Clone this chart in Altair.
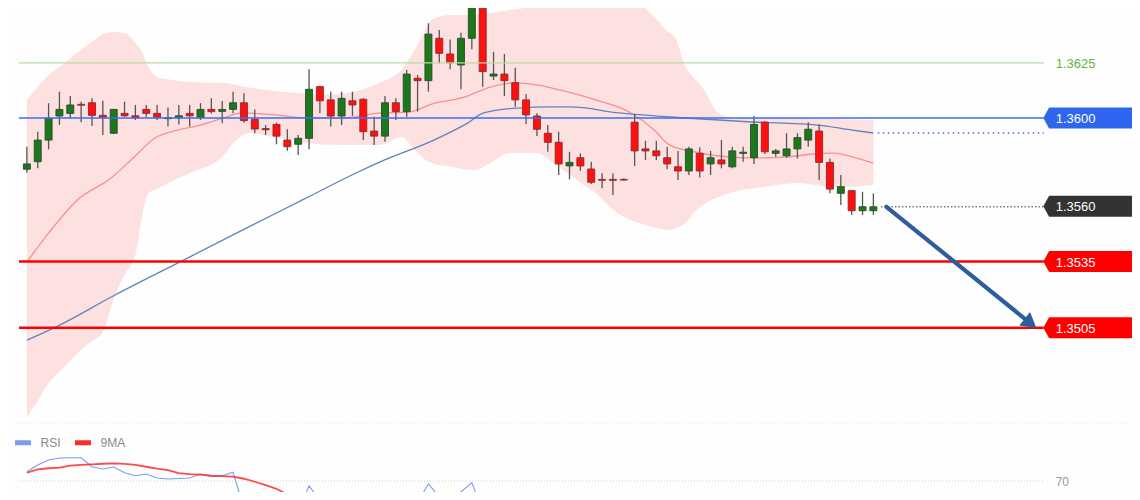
import altair as alt
import pandas as pd

# ---------------- data ----------------
opens = [1.35768, 1.35802, 1.35900, 1.36009, 1.36021, 1.36062, 1.36069, 1.36012, 1.35931, 1.36021,
         1.36010, 1.36039, 1.36021, 1.35997, 1.36001, 1.36021, 1.36002, 1.36039, 1.36030, 1.36039,
         1.36069, 1.35994, 1.35952, 1.35971, 1.35900, 1.35881, 1.35908, 1.36142, 1.36082, 1.36009,
         1.36078, 1.36085, 1.35941, 1.35918, 1.36069, 1.36029, 1.36180, 1.36169, 1.36361, 1.36290,
         1.36240, 1.36361, 1.36557, 1.36190, 1.36199, 1.36160, 1.36082, 1.36009, 1.35931, 1.35890,
         1.35783, 1.35820, 1.35769, 1.35722, 1.35722, 1.35722, 1.35981, 1.35860, 1.35851, 1.35820,
         1.35779, 1.35760, 1.35840, 1.35792, 1.35810, 1.35779, 1.35840, 1.35820, 1.35981, 1.35840,
         1.35829, 1.35860, 1.35900, 1.35941, 1.35799, 1.35659, 1.35671, 1.35580, 1.35580]
highs = [1.35870, 1.35938, 1.36067, 1.36119, 1.36100, 1.36074, 1.36089, 1.36078, 1.36041, 1.36074,
         1.36059, 1.36059, 1.36059, 1.36048, 1.36059, 1.36059, 1.36067, 1.36089, 1.36077, 1.36119,
         1.36112, 1.36039, 1.35968, 1.35979, 1.35949, 1.35923, 1.36221, 1.36146, 1.36119, 1.36119,
         1.36119, 1.36089, 1.36006, 1.36100, 1.36089, 1.36217, 1.36195, 1.36429, 1.36399, 1.36356,
         1.36386, 1.36548, 1.36571, 1.36300, 1.36290, 1.36228, 1.36109, 1.36021, 1.35968, 1.35938,
         1.35847, 1.35840, 1.35802, 1.35750, 1.35750, 1.35726, 1.36018, 1.35897, 1.35897, 1.35870,
         1.35851, 1.35870, 1.35867, 1.35851, 1.35900, 1.35870, 1.35870, 1.36009, 1.35986, 1.35860,
         1.35931, 1.35931, 1.35981, 1.35971, 1.35817, 1.35742, 1.35674, 1.35666, 1.35659]
lows = [1.35752, 1.35772, 1.35858, 1.35968, 1.35999, 1.35981, 1.35964, 1.35923, 1.35928, 1.36006,
        1.35991, 1.36006, 1.35991, 1.35961, 1.35971, 1.35961, 1.35991, 1.36021, 1.35976, 1.36021,
        1.35979, 1.35931, 1.35923, 1.35881, 1.35852, 1.35832, 1.35858, 1.36021, 1.35961, 1.35968,
        1.36009, 1.35900, 1.35878, 1.35893, 1.35991, 1.36006, 1.36029, 1.36119, 1.36248, 1.36221,
        1.36130, 1.36311, 1.36142, 1.36172, 1.36100, 1.36051, 1.35973, 1.35918, 1.35847, 1.35742,
        1.35722, 1.35761, 1.35701, 1.35682, 1.35651, 1.35717, 1.35783, 1.35810, 1.35810, 1.35768,
        1.35719, 1.35742, 1.35731, 1.35742, 1.35772, 1.35772, 1.35802, 1.35792, 1.35837, 1.35825,
        1.35820, 1.35817, 1.35870, 1.35719, 1.35659, 1.35606, 1.35561, 1.35561, 1.35561]
closes = [1.35792, 1.35900, 1.35999, 1.36039, 1.36059, 1.36058, 1.36012, 1.36003, 1.36039, 1.36010,
          1.36001, 1.36021, 1.36003, 1.36001, 1.36010, 1.36010, 1.36039, 1.36029, 1.36039, 1.36069,
          1.35988, 1.35950, 1.35947, 1.35918, 1.35870, 1.35908, 1.36130, 1.36078, 1.36009, 1.36089,
          1.36059, 1.35938, 1.35918, 1.36069, 1.36029, 1.36199, 1.36169, 1.36380, 1.36293, 1.36250,
          1.36361, 1.36522, 1.36210, 1.36199, 1.36169, 1.36082, 1.36014, 1.35949, 1.35890, 1.35792,
          1.35799, 1.35783, 1.35709, 1.35718, 1.35718, 1.35719, 1.35851, 1.35851, 1.35829, 1.35792,
          1.35760, 1.35860, 1.35760, 1.35820, 1.35792, 1.35851, 1.35845, 1.35971, 1.35847, 1.35851,
          1.35860, 1.35911, 1.35949, 1.35799, 1.35678, 1.35689, 1.35580, 1.35598, 1.35598]

band_idx = [0, 1, 2, 3, 4, 5, 6, 7, 8, 9, 10, 10.6, 11.2, 12, 13, 15, 18, 19.3, 20.5, 22.5, 24.5, 27, 30,
            32.5, 34.5, 35.5, 36.4, 37.3, 39, 41.2, 42.8, 44.5, 47, 48.5, 50.5, 52.4, 54.4, 56.4, 57.8,
            59.1, 59.7, 60.7, 61.7, 62.4, 63.7, 65.1, 67.8, 71, 74.3, 78]
band_upper = [1.36082, 1.36140, 1.36195, 1.36230, 1.36270, 1.36310, 1.36345, 1.36380, 1.36390, 1.36385,
              1.36340, 1.36300, 1.36231, 1.36186, 1.36175, 1.36163, 1.36159, 1.36150, 1.36138, 1.36125,
              1.36115, 1.36106, 1.36118, 1.36160, 1.36217, 1.36290, 1.36367, 1.36444, 1.36467, 1.36467,
              1.36475, 1.36489, 1.36505, 1.36515, 1.36535, 1.36548, 1.36548, 1.36520, 1.36458, 1.36390,
              1.36367, 1.36231, 1.36170, 1.36127, 1.36023, 1.36000, 1.36000, 1.36000, 1.35996, 1.35991]
band_lower = [1.34646, 1.34720, 1.34800, 1.34850, 1.34900, 1.34950, 1.34990, 1.35030, 1.35180, 1.35290,
              1.35380, 1.35552, 1.35660, 1.35680, 1.35705, 1.35751, 1.35823, 1.35900, 1.35932, 1.35915,
              1.35900, 1.35880, 1.35878, 1.35878, 1.35914, 1.35870, 1.35823, 1.35796, 1.35780, 1.35764,
              1.35800, 1.35841, 1.35841, 1.35795, 1.35725, 1.35660, 1.35570, 1.35524, 1.35505, 1.35493,
              1.35500, 1.35524, 1.35583, 1.35610, 1.35642, 1.35665, 1.35687, 1.35706, 1.35687, 1.35697]

mid_idx = [0, 2.0, 4.66, 7.76, 9.59, 11.96, 13.97, 15.98, 18.08, 19.9, 22.9, 26.0, 29.0, 32.7, 35.2,
           37.3, 40.3, 42.7, 44.8, 47.1, 49.1, 52.4, 55.5, 57.8, 59.2, 61.6, 63.7, 66.8, 69.9, 72.4,
           74.4, 76.1, 78]
mid_val = [1.35348, 1.35479, 1.35629, 1.35728, 1.35810, 1.35914, 1.35946, 1.35968, 1.36000, 1.36023,
           1.36014, 1.36000, 1.36000, 1.36023, 1.36027, 1.36063, 1.36095, 1.36140, 1.36159, 1.36149,
           1.36127, 1.36082, 1.36027, 1.35946, 1.35878, 1.35846, 1.35828, 1.35819, 1.35823, 1.35837,
           1.35841, 1.35823, 1.35796]

ma_idx = [0, 2.65, 7.95, 14.25, 19.9, 25.4, 29.95, 32.97, 37.5, 40.6, 42.1, 45.2, 48.2, 50.05, 54.6,
          60.7, 66.8, 72.9, 75.9, 78]
ma_val = [1.34994, 1.35053, 1.35194, 1.35352, 1.35493, 1.35629, 1.35742, 1.35810, 1.35900, 1.35977,
          1.36023, 1.36045, 1.36050, 1.36050, 1.36023, 1.36000, 1.35982, 1.35968, 1.35946, 1.35932]

rsi_vals = [76.2, 80.7, 84.0, 85.3, 85.5, 85.5, 79.5, 78.0, 79.3, 75.5, 73.5, 74.7, 72.0, 71.3, 71.7,
            72.0, 74.7, 72.9, 73.5, 75.8, 52.0, 46.0, 44.0, 40.0, 38.0, 50.0, 66.7, 57.0, 52.0, 54.0,
            50.0, 42.0, 40.0, 50.0, 48.0, 59.3, 56.0, 68.0, 59.3, 56.0, 62.7, 68.9, 50.0, 48.0, 45.0]
rsi_ma_vals = [75.5, 77.8, 78.5, 78.9, 80.2, 80.7, 81.1, 81.5, 81.8, 81.4, 80.8, 79.5, 78.3, 77.3,
               75.3, 74.6, 74.2, 73.6, 73.2, 72.9, 71.5, 69.5, 67.3, 64.8, 61.0, 56.0, 53.0, 50.0]

resistance = 1.3625
pivot = 1.3600
support1 = 1.3535
support2 = 1.3505
rsi_level = 70

# ---------------- layout constants ----------------
X_DOM = [-1.2785, 101.370]
P_DOM = [1.343062, 1.364982]
R_DOM = [62.667, 385.333]
LINE_START, LINE_END = -0.73, 93.7
EXT_START = 78.4
TAG_X = 97.76
TEXT_X = 94.8
FONT = "Liberation Sans"
TAG_PATH = "M-1,0L-0.87,-0.236L1,-0.236L1,0.236L-0.87,0.236Z"

xs = alt.Scale(domain=X_DOM, nice=False, zero=False)
ps = alt.Scale(domain=P_DOM, nice=False, zero=False)
rs = alt.Scale(domain=R_DOM, nice=False, zero=False)


def X(f):
    return alt.X(f, type="quantitative", scale=xs, axis=None)


def P(f):
    return alt.Y(f, type="quantitative", scale=ps, axis=None)


def R(f):
    return alt.Y(f, type="quantitative", scale=rs, axis=None)


n = len(closes)
cdf = pd.DataFrame({"i": list(range(n)), "open": opens, "high": highs, "low": lows, "close": closes})
bdf = pd.DataFrame({"i": band_idx, "up": band_upper, "lo": band_lower})
mdf = pd.DataFrame({"i": mid_idx, "v": mid_val})
adf = pd.DataFrame({"i": ma_idx, "v": ma_val})

band = alt.Chart(bdf).mark_area(color="#fde1e1", interpolate="monotone", clip=True).encode(
    x=X("i"), y=P("up"), y2="lo")
mid = alt.Chart(mdf).mark_line(color="#f59090", strokeWidth=1.3, interpolate="monotone", clip=True).encode(
    x=X("i"), y=P("v"))
longma = alt.Chart(adf).mark_line(color="#6482b8", strokeWidth=1.3, interpolate="monotone", clip=True).encode(
    x=X("i"), y=P("v"))

up = "datum.close >= datum.open"
wicks = alt.Chart(cdf).mark_rule(color="#555555", strokeWidth=1.3, clip=True).encode(
    x=X("i"), y=P("low"), y2="high")
bodies = alt.Chart(cdf).mark_bar(width=7, strokeWidth=0.9, clip=True).encode(
    x=X("i"), y=P("open"), y2="close",
    color=alt.condition(up, alt.value("#1b781b"), alt.value("#ff1010")),
    stroke=alt.condition(up, alt.value("#2d4a2d"), alt.value("#8a2a2a")))


def hline(value, color, width, x0=LINE_START, dash=None):
    d = pd.DataFrame({"x0": [x0], "x1": [LINE_END], "y": [value]})
    kw = dict(color=color, strokeWidth=width)
    if dash:
        kw["strokeDash"] = dash
    return alt.Chart(d).mark_rule(**kw).encode(x=X("x0"), x2="x1", y=P("y"))


green_line = hline(resistance, "#b7dca0", 1.2)
blue_line = hline(pivot, "#3a6ff2", 1.6)
red1 = hline(support1, "#ff0000", 2.6)
red2 = hline(support2, "#ff0000", 2.6)
ma_ext = hline(ma_val[-1], "#3b6fd6", 1.3, EXT_START, [1.5, 3.5])
px_ext = hline(closes[-1], "#777777", 1.3, EXT_START + 0.3, [1.5, 2])

# arrow from current price toward second support
arrow_start = (n - 1 + 1.2, closes[-1])
arrow_end = (92.3, support2 + 0.00027)
ardf = pd.DataFrame({"i": [arrow_start[0], arrow_end[0]], "v": [arrow_start[1], arrow_end[1]]})
shaft = alt.Chart(ardf).mark_line(color="#2d5d9c", strokeWidth=4.2, strokeCap="round").encode(
    x=X("i"), y=P("v"))
head = alt.Chart(ardf.iloc[[1]]).mark_point(shape="triangle", angle=128.6, size=300, filled=True,
                                            color="#2d5d9c", opacity=1).encode(x=X("i"), y=P("v"))


def tag(value, color, text=None):
    d = pd.DataFrame({"x": [TAG_X], "tx": [TEXT_X], "y": [value], "t": [text or f"{value:.4f}"]})
    box = alt.Chart(d).mark_point(shape=TAG_PATH, size=7921, filled=True, color=color, opacity=1).encode(
        x=X("x"), y=P("y"))
    txt = alt.Chart(d).mark_text(align="left", baseline="middle", color="white", fontSize=13, font=FONT,
                                 dy=1).encode(x=X("tx"), y=P("y"), text="t:N")
    return box + txt


tag_pivot = tag(pivot, "#2e66f0")
tag_price = tag(round(closes[-1], 4), "#333333")
tag_s1 = tag(support1, "#ff0000")
tag_s2 = tag(support2, "#ff0000")
res_df = pd.DataFrame({"tx": [TEXT_X], "y": [resistance], "t": [f"{resistance:.4f}"]})
res_txt = alt.Chart(res_df).mark_text(align="left", baseline="middle", color="#6bb13f", fontSize=13,
                                      font=FONT, dy=1).encode(x=X("tx"), y=P("y"), text="t:N")

price = alt.layer(band, mid, longma, wicks, bodies, green_line, blue_line, red1, red2, ma_ext, px_ext,
                  shaft, head, tag_pivot, tag_price, tag_s1, tag_s2, res_txt)

# ---------------- RSI panel ----------------
rdf = pd.DataFrame({"i": list(range(len(rsi_vals))), "v": rsi_vals, "s": "RSI"})
r9df = pd.DataFrame({"i": list(range(len(rsi_ma_vals))), "v": rsi_ma_vals, "s": "9MA"})
cscale = alt.Scale(domain=["RSI", "9MA"], range=["#7d9cf0", "#ff2a2a"])
leg = alt.Legend(title=None, orient="none", legendX=4.5, legendY=424, direction="horizontal",
                 symbolType="stroke", symbolStrokeWidth=5, symbolSize=256, labelFontSize=12,
                 labelColor="#8a8a8a", labelFont=FONT, columnPadding=3, labelOffset=7, padding=0,
                 symbolOpacity=1)
rsi_line = alt.Chart(rdf).mark_line(strokeWidth=1.1, clip=True).encode(
    x=X("i"), y=R("v"), color=alt.Color("s:N", scale=cscale, legend=leg))
rsi_ma = alt.Chart(r9df).mark_line(strokeWidth=1.8, clip=True, opacity=0.85).encode(
    x=X("i"), y=R("v"), color=alt.Color("s:N", scale=cscale, legend=leg))

sep_df = pd.DataFrame({"x0": [X_DOM[0]], "x1": [X_DOM[1]], "y": [108.67]})
sep = alt.Chart(sep_df).mark_rule(color="#e3e3e3", strokeDash=[1, 2], strokeWidth=1).encode(
    x=X("x0"), x2="x1", y=R("y"))
lvl_df = pd.DataFrame({"x0": [LINE_START], "x1": [LINE_END], "tx": [TEXT_X], "y": [rsi_level],
                       "t": [str(rsi_level)]})
lvl = alt.Chart(lvl_df).mark_rule(color="#cccccc", strokeDash=[1, 2], strokeWidth=1).encode(
    x=X("x0"), x2="x1", y=R("y"))
lvl_txt = alt.Chart(lvl_df).mark_text(align="left", baseline="middle", color="#999999", fontSize=12,
                                      font=FONT, dy=1).encode(x=X("tx"), y=R("y"), text="t:N")

rsi = alt.layer(sep, lvl, lvl_txt, rsi_line, rsi_ma)

chart = alt.layer(price, rsi).resolve_scale(y="independent").properties(
    width=1124, height=484, padding=0, autosize=alt.AutoSizeParams(type="none"),
    background="#fdfefd"
).configure_view(stroke=None)

chart.save("out.html", embed_options={"renderer": "svg", "actions": False})
